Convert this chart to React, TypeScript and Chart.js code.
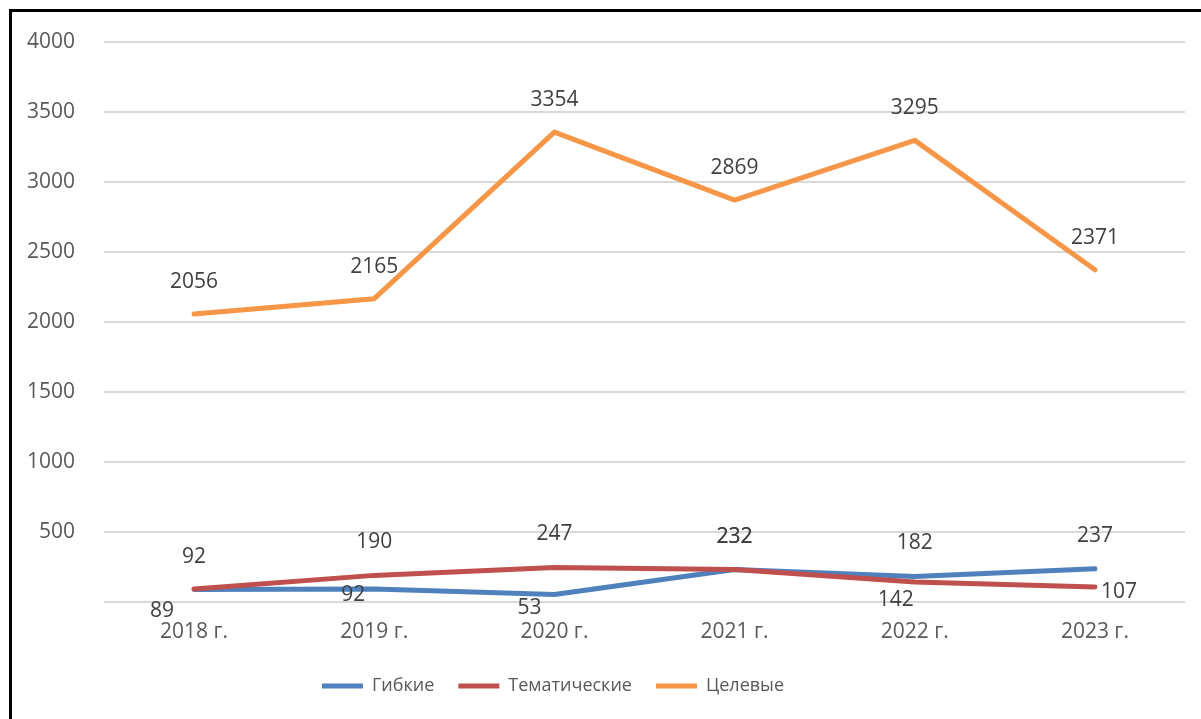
import React, { useEffect, useRef } from 'react';
import { Chart, registerables } from 'chart.js';

Chart.register(...registerables);

const categories = ['2018 г.', '2019 г.', '2020 г.', '2021 г.', '2022 г.', '2023 г.'];
const seriesNames = ['Гибкие', 'Тематические', 'Целевые'];
const gibkie = [89, 92, 53, 232, 182, 237];
const tematicheskie = [92, 190, 247, 232, 142, 107];
const celevye = [2056, 2165, 3354, 2869, 3295, 2371];
const yMin = 0;
const yMax = 4000;
const yStep = 500;

const seriesColors = ['#4F81BD', '#C0504D', '#F79646'];

// label placement relative to each point (style config, not data)
const labelOffsets: number[][][] = [
  [[-32, 21], [-21, 6], [-25, 13], [0, -32], [0, -33], [0, -33]],
  [[0, -32], [0, -33], [0, -33], [0, -32], [-19, 18], [24, 5]],
  [[0, -32], [0, -32], [0, -32], [0, -32], [0, -32], [0, -32]],
];

const FONT = 'Open Sans';

const pointLabelsPlugin = {
  id: 'pointLabels',
  afterDatasetsDraw(chart: any) {
    const ctx = chart.ctx;
    ctx.save();
    ctx.font = `21px "${FONT}"`;
    ctx.fillStyle = '#404040';
    ctx.textAlign = 'center';
    ctx.textBaseline = 'middle';
    chart.data.datasets.forEach((ds: any, di: number) => {
      const meta = chart.getDatasetMeta(di);
      meta.data.forEach((pt: any, i: number) => {
        const off = labelOffsets[di][i];
        ctx.fillText(String(ds.data[i]), pt.x + off[0], pt.y + off[1]);
      });
    });
    ctx.restore();
  },
};

const legendShiftPlugin = {
  id: 'legendShift',
  afterLayout(chart: any) {
    const lg = chart.legend;
    if (!lg) return;
    const shift = 553 - (lg.left + lg.right) / 2;
    lg.left += shift;
    lg.right += shift;
    if (lg.adjustHitBoxes) lg.adjustHitBoxes();
  },
};

export default function App() {
  const canvasRef = useRef<HTMLCanvasElement | null>(null);

  useEffect(() => {
    if (!canvasRef.current) return;
    const series = [gibkie, tematicheskie, celevye];
    const chart = new Chart(canvasRef.current, {
      type: 'line',
      data: {
        labels: categories,
        datasets: series.map((d, i) => ({
          label: seriesNames[i],
          data: d,
          borderColor: seriesColors[i],
          backgroundColor: seriesColors[i],
          borderWidth: 5,
          borderCapStyle: 'round',
          borderJoinStyle: 'round',
          pointRadius: 0,
          pointHoverRadius: 0,
          tension: 0,
          fill: false,
          order: 2 - i,
        })),
      },
      options: {
        responsive: false,
        animation: false,
        events: [],
        layout: { padding: { left: 12, right: 16, top: 39, bottom: 14 } },
        scales: {
          x: {
            offset: true,
            grid: { display: false, drawTicks: false },
            border: { display: false },
            ticks: { color: '#595959', font: { family: FONT, size: 21 }, padding: 17 },
            afterFit: (s: any) => {
              s.height = 51;
            },
          },
          y: {
            min: yMin,
            max: yMax,
            ticks: {
              stepSize: yStep,
              color: '#595959',
              font: { family: FONT, size: 21 },
              padding: 29,
              callback: (v: any) => (v === 0 ? '' : String(v)),
            },
            grid: { color: '#d9d9d9', lineWidth: 2, drawTicks: false },
            border: { display: false },
            afterFit: (s: any) => {
              s.width = 92;
            },
          },
        },
        plugins: {
          legend: {
            position: 'bottom',
            labels: {
              usePointStyle: true,
              pointStyle: 'line',
              pointStyleWidth: 41,
              padding: 24,
              color: '#595959',
              font: { family: FONT, size: 18 },
              sort: (a: any, b: any) => a.datasetIndex - b.datasetIndex,
            },
          },
          tooltip: { enabled: false },
        },
      } as any,
      plugins: [pointLabelsPlugin, legendShiftPlugin],
    });
    return () => chart.destroy();
  }, []);

  return (
    <div
      style={{
        position: 'fixed',
        left: 0,
        top: 0,
        width: 1201,
        height: 719,
        overflow: 'hidden',
        background: '#fff',
      }}
    >
      <div
        style={{
          position: 'absolute',
          left: 9,
          top: 9,
          width: 1400,
          height: 900,
          border: '3px solid #000',
        }}
      />
      <canvas
        ref={canvasRef}
        width={1201}
        height={719}
        style={{ position: 'absolute', left: 0, top: 0, display: 'block' }}
      />
    </div>
  );
}
